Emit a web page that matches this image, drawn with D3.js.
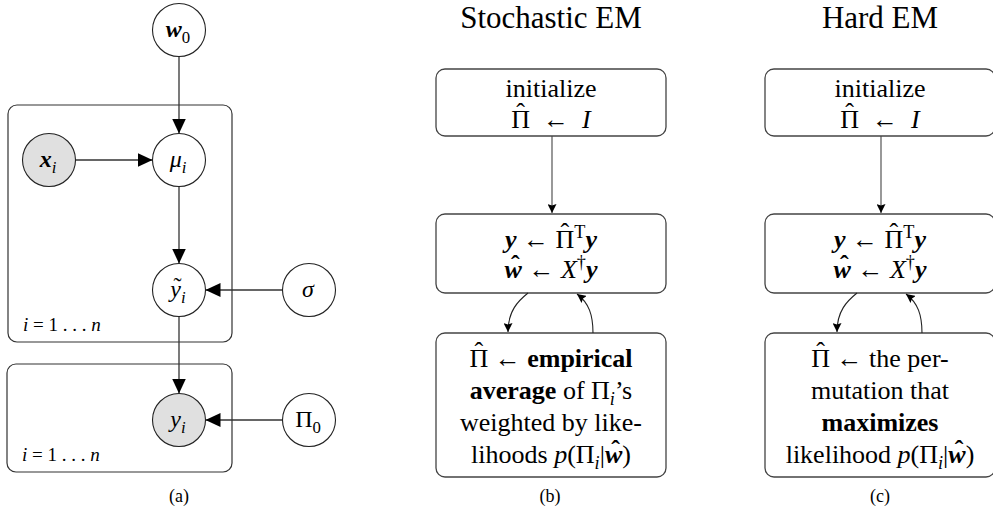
<!DOCTYPE html>
<html><head><meta charset="utf-8">
<script src="https://cdn.jsdelivr.net/npm/d3@7"></script>
<style>html,body{margin:0;padding:0;background:#fff;} svg{display:block;}</style>
</head><body>
<svg id="fig" width="993" height="512"></svg>
<script>
// ---------- data ----------
// panel (a): graphical model nodes on a grid (col,row)
const nodeIds     = ["w0", "x", "mu", "yt", "sigma", "y", "pi0"];
const nodeCols    = [1, 0, 1, 1, 2, 1, 2];
const nodeRows    = [0, 1, 1, 2, 2, 3, 3];
const nodeObserved= [false, true, false, false, false, true, false];
const nodeLabels  = [
  [["w","bi"],["0","sub"]],
  [["x","bi"],["i","it sub"]],
  [["μ","it"],["i","it sub"]],
  [["y","it tilde"],["i","it sub"]],
  [["σ","it"]],
  [["y","it"],["i","it sub"]],
  [["Π",""],["0","sub"]]
];
const edgeList = [["w0","mu"],["x","mu"],["mu","yt"],["sigma","yt"],["yt","y"],["pi0","y"]];
const plateRows = [[1,2],[3,3]];
const plateLabel = [["i","it"],[" = 1 . . . ",""],["n","it"]];

// panels (b) and (c)
const panelKeys   = ["stochastic","hard"];
const panelTitles = ["Stochastic EM", "Hard EM"];
const captions    = ["(a)", "(b)", "(c)"];
const initLines = [
  [["initialize",""]],
  [["Π","hat"],["  ←  ",""],["I","it"]]
];
const updateLines = [
  [["y","bi"],[" ← ",""],["Π","hat"],["T","sup"],["y","bi"]],
  [["w","bi hat"],[" ← ",""],["X","it"],["†","sup"],["y","bi"]]
];
const estimateLines = {
  stochastic: [
    [["Π","hat"],[" ← ",""],["empirical","b"]],
    [["average","b"],[" of ",""],["Π",""],["i","it sub"],["’s",""]],
    [["weighted by like-",""]],
    [["lihoods ",""],["p","it"],["(Π",""],["i","it sub"],["|",""],["w","bi hat"],[")",""]]
  ],
  hard: [
    [["Π","hat"],[" ← the per-",""]],
    [["mutation that",""]],
    [["maximizes","b"]],
    [["likelihood ",""],["p","it"],["(Π",""],["i","it sub"],["|",""],["w","bi hat"],[")",""]]
  ]
};

// ---------- drawing ----------
const SERIF = '"Liberation Serif","Times New Roman",serif';
const svg = d3.select("#fig");

const defs = svg.append("defs");
defs.append("marker").attr("id","big").attr("markerUnits","userSpaceOnUse")
  .attr("viewBox","0 -7 15 14").attr("refX",15).attr("refY",0)
  .attr("markerWidth",15).attr("markerHeight",14).attr("orient","auto")
  .append("path").attr("d","M0,-7L15,0L0,7Z").attr("fill","#000");
defs.append("marker").attr("id","small").attr("markerUnits","userSpaceOnUse")
  .attr("viewBox","0 -4.5 9 9").attr("refX",9).attr("refY",0)
  .attr("markerWidth",9).attr("markerHeight",9).attr("orient","auto")
  .append("path").attr("d","M0,-4.5L9,0L0,4.5L1.5,0Z").attr("fill","#000");

function nb(s) { return s.replace(/ /g, "\u00A0"); }

// every token is its own <text>; tokens are laid out left to right by measured width
function mathText(parent, x, y, tokens, size, anchor) {
  const g = parent.append("g");
  let cursor = 0;
  tokens.forEach(([s, st]) => {
    const f = st.split(" ");
    const italic = f.includes("it") || f.includes("bi");
    const bold = f.includes("b") || f.includes("bi");
    const small = f.includes("sub") || f.includes("sup");
    const off = f.includes("sub") ? size*0.24 : f.includes("sup") ? -size*0.38 : 0;
    const fs = small ? size*0.7 : size;
    const t = g.append("text").attr("x", cursor).attr("y", y + off)
      .attr("font-family", SERIF).attr("font-size", fs)
      .attr("font-style", italic ? "italic" : "normal")
      .attr("font-weight", bold ? "bold" : "normal")
      .attr("fill", "#000").text(nb(s));
    const w = t.node().getComputedTextLength();
    if (f.includes("hat") || f.includes("tilde")) {
      const isHat = f.includes("hat");
      const cap = s === s.toUpperCase();
      const lift = isHat ? (cap ? 0.26 : 0.18) : 0.12;
      g.append("text").attr("x", cursor + w/2 + (italic ? size*0.08 : 0)).attr("y", y - lift*size)
        .attr("text-anchor","middle")
        .attr("font-family", SERIF).attr("font-size", size)
        .attr("font-weight", bold ? "bold" : "normal")
        .attr("fill", "#000").text(isHat ? "\u02C6" : "\u02DC");
    }
    cursor += w;
  });
  const shiftX = anchor === "start" ? x : x - cursor/2;
  g.attr("transform", `translate(${shiftX},0)`);
  return g;
}

// ---- panel (a) ----
const colX = d3.scaleLinear().domain([0,2]).range([49,309]);
const rowY = d3.scaleLinear().domain([0,3]).range([30,420]);
const R = 26.5;
const nodes = nodeIds.map((id,i) => ({id, x: colX(nodeCols[i]), y: rowY(nodeRows[i]), obs: nodeObserved[i], label: nodeLabels[i]}));
const byId = Object.fromEntries(nodes.map(n => [n.id, n]));
const gA = svg.append("g");

// plates
plateRows.forEach(([r0, r1], k) => {
  const y0 = rowY(r0) - 55 + (k ? -1 : 0), y1 = rowY(r1) + 52;
  const x0 = colX(0) - 41 - (k ? 1 : 0), x1 = colX(1) + 53;
  gA.append("rect").attr("x", x0).attr("y", y0).attr("width", x1-x0).attr("height", y1-y0)
    .attr("rx", 9).attr("fill","none").attr("stroke","#333").attr("stroke-width",1.2);
  mathText(gA, x0 + 15, y1 - 11, plateLabel, 19, "start");
});

// edges
edgeList.forEach(([s,t]) => {
  const a = byId[s], b = byId[t];
  const dx = b.x - a.x, dy = b.y - a.y, L = Math.hypot(dx,dy);
  const ux = dx/L, uy = dy/L;
  gA.append("line")
    .attr("x1", a.x + ux*R).attr("y1", a.y + uy*R)
    .attr("x2", b.x - ux*R).attr("y2", b.y - uy*R)
    .attr("stroke","#333").attr("stroke-width",1.3).attr("marker-end","url(#big)");
});

// nodes
nodes.forEach(n => {
  gA.append("circle").attr("cx", n.x).attr("cy", n.y).attr("r", R)
    .attr("fill", n.obs ? "#e0e0e0" : "#fff").attr("stroke","#222").attr("stroke-width",1.1);
  mathText(gA, n.x - 1, n.y + 7, n.label, 24, "middle");
});

// ---- panels (b), (c) ----
const panelX = d3.scaleOrdinal().domain(panelKeys).range([551, 880]);
const BW = 230;
const box1 = [69,136], box2 = [214,293], box3 = [333,477];
const initBase = [97,128], updBase = [248,278];
const estBase = d3.range(4).map(i => 367 + i*32);

panelKeys.forEach((key, p) => {
  const cx = panelX(key);
  const g = svg.append("g");
  g.append("text").attr("x", cx).attr("y", 28).attr("text-anchor","middle")
    .attr("font-family", SERIF).attr("font-size", 31).text(panelTitles[p]);
  [box1, box2, box3].forEach(([y0,y1]) => {
    g.append("rect").attr("x", cx - BW/2).attr("y", y0).attr("width", BW).attr("height", y1-y0)
      .attr("rx", 9).attr("fill","none").attr("stroke","#444").attr("stroke-width",1.3);
  });
  initLines.forEach((ln,i) => mathText(g, cx, initBase[i], ln, 26));
  updateLines.forEach((ln,i) => mathText(g, cx, updBase[i], ln, 26));
  estimateLines[key].forEach((ln,i) => mathText(g, cx, estBase[i], ln, 26));
  // straight arrow box1 -> box2
  g.append("line").attr("x1", cx+1).attr("y1", box1[1]).attr("x2", cx+1).attr("y2", box2[0]-1)
    .attr("stroke","#444").attr("stroke-width",1.1).attr("marker-end","url(#small)");
  // loop arrows between box2 and box3
  g.append("path").attr("d", `M${cx-23},${box2[1]} C${cx-33},${box2[1]+8} ${cx-43},${box2[1]+18} ${cx-43},${box3[0]-1}`)
    .attr("fill","none").attr("stroke","#222").attr("stroke-width",1.1).attr("marker-end","url(#small)");
  g.append("path").attr("d", `M${cx+42},${box3[0]} C${cx+42},${box3[0]-18} ${cx+38},${box2[1]+10} ${cx+26},${box2[1]+1}`)
    .attr("fill","none").attr("stroke","#222").attr("stroke-width",1.1).attr("marker-end","url(#small)");
});

// captions
const capX = [179, 550, 880];
captions.forEach((c,i) => svg.append("text").attr("x", capX[i]).attr("y", 502)
  .attr("text-anchor","middle").attr("font-family", SERIF).attr("font-size", 18).text(c));
</script>
</body></html>
